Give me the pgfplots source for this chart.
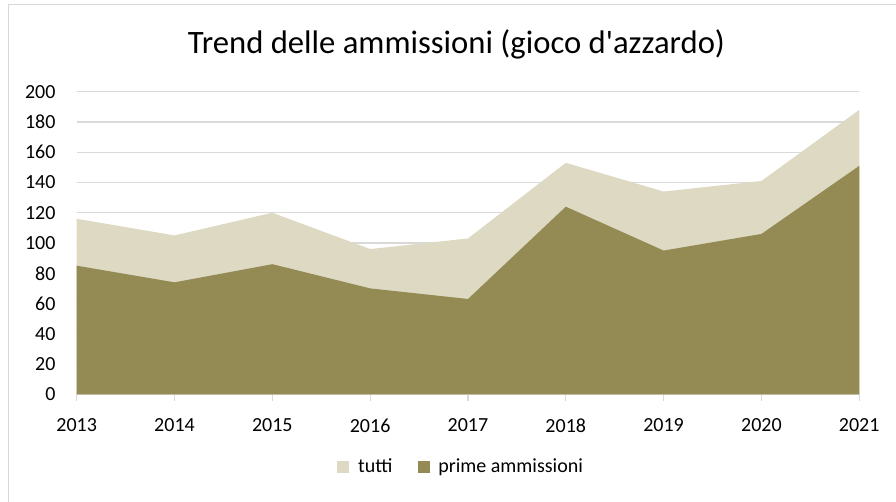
\documentclass[border=0pt]{standalone}
\usepackage{pgfplots}
\pgfplotsset{compat=1.18}
\usepackage{fontspec}
\setmainfont{Carlito}
\definecolor{prime}{HTML}{948A54}
\definecolor{tutti}{HTML}{DDD9C3}
\definecolor{gridc}{HTML}{D9D9D9}
\begin{document}
\begin{tikzpicture}[x=0.75pt,y=0.75pt]
\useasboundingbox (0,0) rectangle (896,501);
\fill[white] (0,0) rectangle (896,501);
\draw[gridc, line width=1pt] (8.5,-20) -- (8.5,496.5) -- (950,496.5);
\node[font=\fontsize{24.5}{29}\selectfont, anchor=center] at (456.5,457) {Trend delle ammissioni (gioco d\textquotesingle azzardo)};
\begin{axis}[
  at={(76.7*0.75pt,106.7*0.75pt)}, anchor=south west,
  scale only axis, width=586.95pt, height=226.95pt,
  xmin=2013, xmax=2021, ymin=0, ymax=200,
  xtick={2013,...,2021}, ytick={0,20,...,200},
  /pgf/number format/assume math mode=true,
  /pgf/number format/1000 sep={},
  axis line style={draw=none},
  ymajorgrids, grid style={gridc, line width=0.9pt},
  tick align=outside, tick pos=left,
  xtick style={gridc, line width=0.9pt}, major tick length=5pt,
  ytick style={draw=none},
  ticklabel style={font=\fontsize{15}{18}\selectfont},
  yticklabel style={anchor=east, inner sep=0pt, xshift=-10.7pt},
  xticklabel style={anchor=north, inner sep=0pt, yshift=-13pt},
  legend columns=2,
  legend style={at={(0.4917,-0.24)}, anchor=center, draw=none, fill=none,
    font=\fontsize{15}{18}\selectfont, column sep=4.5pt,
    /tikz/column 2/.style={column sep=17pt}},
  legend image code/.code={\fill[#1] (0pt,-4.5pt) rectangle (9pt,4.5pt);},
]
\addplot[fill=tutti, draw=none] coordinates {
(2013,116) (2014,105) (2015,120) (2016,96) (2017,103) (2018,153) (2019,134) (2020,141) (2021,188)
} \closedcycle;
\addlegendentry{tutti}
\addplot[fill=prime, draw=none] coordinates {
(2013,85) (2014,74) (2015,86) (2016,70) (2017,63) (2018,124) (2019,95) (2020,106) (2021,151)
} \closedcycle;
\addlegendentry{prime ammissioni}
\end{axis}
\end{tikzpicture}
\end{document}
